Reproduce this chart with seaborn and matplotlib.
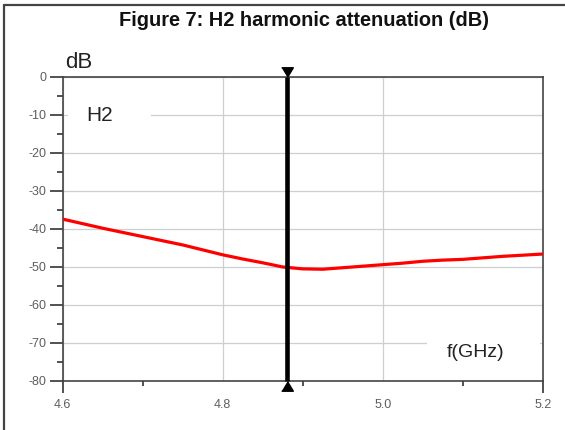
import numpy as np
import pandas as pd
import matplotlib
matplotlib.use("Agg")
import matplotlib.pyplot as plt
from matplotlib.lines import Line2D
from matplotlib.ticker import MultipleLocator, FixedLocator
import seaborn as sns

# H2 attenuation sweep
freq_ghz = [4.600, 4.625, 4.650, 4.675, 4.700, 4.725, 4.750, 4.775, 4.800,
            4.825, 4.850, 4.875, 4.900, 4.925, 4.950, 4.975, 5.000, 5.025,
            5.050, 5.075, 5.100, 5.125, 5.150, 5.175, 5.200]
atten_db = [-37.5, -38.7, -39.9, -41.0, -42.1, -43.2, -44.3, -45.6, -46.9,
            -48.0, -49.0, -50.1, -50.6, -50.7, -50.3, -49.9, -49.5, -49.1,
            -48.6, -48.3, -48.1, -47.7, -47.3, -47.0, -46.7]

marker_freq = 4.88
x_ticks = [4.6, 4.8, 5.0, 5.2]
x_tick_labels = ["4.6", "4.8", "5.0", "5.2"]
y_ticks = [0, -10, -20, -30, -40, -50, -60, -70, -80]

sns.set_theme(style="white")
plt.rcParams["font.family"] = ["Liberation Sans", "DejaVu Sans"]

fig = plt.figure(figsize=(5.65, 4.30), dpi=100)
ax = fig.add_axes([0.111, 0.1151, 0.8495, 0.7065])

df = pd.DataFrame({"f": freq_ghz, "dB": atten_db})
sns.lineplot(data=df, x="f", y="dB", ax=ax, color="#ff0000", lw=2.3, zorder=3)

ax.set_xlim(4.6, 5.2)
ax.set_ylim(-80, 0)
ax.set_xlabel("")
ax.set_ylabel("")

# grid: horizontal every 10 dB, vertical at the inner major ticks
ax.yaxis.set_major_locator(FixedLocator(y_ticks))
ax.yaxis.set_minor_locator(MultipleLocator(5))
ax.xaxis.set_major_locator(FixedLocator(x_ticks))
ax.xaxis.set_minor_locator(FixedLocator([4.7, 4.9, 5.1]))
ax.set_xticklabels(x_tick_labels)
ax.set_yticklabels([str(v) for v in y_ticks])
ax.grid(True, which="major", color="#cfcfcf", lw=0.9)

for s in ax.spines.values():
    s.set_color("#444444")
    s.set_linewidth(1.2)

ax.tick_params(axis="both", which="major", direction="out", color="#333333",
               labelcolor="#5e5e5e", labelsize=9, width=1.2)
ax.tick_params(axis="y", which="major", length=9.5, pad=2.5, left=True)
ax.tick_params(axis="y", which="minor", length=4.5, width=1.2, left=True,
               color="#333333", direction="out")
ax.tick_params(axis="x", which="major", length=8.5, pad=5, bottom=True)
ax.tick_params(axis="x", which="minor", length=3.8, width=1.2, bottom=True,
               color="#333333", direction="out")
for t in ax.xaxis.get_major_ticks()[1:3]:
    t.tick1line.set_visible(False)

# frequency marker with end triangles
ax.plot([marker_freq, marker_freq], [0, -80], color="black", lw=3.3,
        solid_capstyle="butt", clip_on=False, zorder=5)
down_tri = [(-0.6, 1.0), (0.6, 1.0), (0.0, 0.0)]
up_tri = [(-0.6, -1.0), (0.6, -1.0), (0.0, 0.0)]
ax.plot([marker_freq], [0], marker=down_tri, ms=14, color="black",
        clip_on=False, zorder=6)
ax.plot([marker_freq], [-80], marker=up_tri, ms=14, color="black",
        clip_on=False, zorder=6)

# in-plot labels with white boxes over the grid
ax.add_patch(plt.Rectangle((4.607, -13), 0.1035, 6, facecolor="white",
                           edgecolor="none", zorder=2))
ax.add_patch(plt.Rectangle((5.055, -73), 0.142, 6, facecolor="white",
                           edgecolor="none", zorder=2))
ax.text(4.630, -10.3, "H2", fontsize=15, color="#222222", va="center",
        ha="left", zorder=4)
ax.text(5.080, -72.5, "f(GHz)", fontsize=14, color="#222222", va="center",
        ha="left", zorder=4)

# y axis unit above the plot
fig.text(65 / 565, 1 - 62 / 430, "dB", fontsize=16, color="#222222",
         va="center", ha="left")

fig.text(304 / 565, 1 - 21 / 430, "Figure 7: H2 harmonic attenuation (dB)",
         fontsize=14.4, fontweight="bold", color="#111111",
         ha="center", va="center")

# page frame at left and top
fig.add_artist(Line2D([4 / 565, 4 / 565], [0, 1 - 5 / 430],
                      color="#444444", lw=1.6))
fig.add_artist(Line2D([4 / 565, 1], [1 - 5 / 430, 1 - 5 / 430],
                      color="#444444", lw=1.6))

fig.savefig("out.png", dpi=100, facecolor="white")
